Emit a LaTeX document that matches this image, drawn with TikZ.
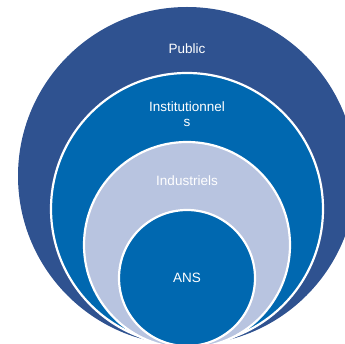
\documentclass[tikz,border=0pt]{standalone}
\usepackage{fontspec}
\setmainfont{Liberation Sans}
\definecolor{publicblue}{HTML}{2F5290}
\definecolor{instblue}{HTML}{0068B0}
\definecolor{indblue}{HTML}{B8C4E0}
\tikzset{
    ring/.style={draw=white,circle,line width=2.2pt,inner sep=0pt,outer sep=0pt},
    ringtext/.style={text=white,font=\fontsize{13.5}{15}\selectfont,align=center,inner sep=0pt}
}

\begin{document}
\begin{tikzpicture}[x=1pt,y=-1pt]
    \useasboundingbox (0, 0) rectangle (345, 344);
    \clip (0, 0) rectangle (345, 344);

    \begin{scope}
        \node[ring,draw=none,fill=publicblue,minimum size=338pt] (C_public) at (187, 176) {};
        \node[ring,fill=instblue,minimum size=272pt] (C_inst) at (187, 209) {};
        \node[ring,fill=indblue,minimum size=206pt] (C_ind) at (187, 245) {};
        \node[ring,fill=instblue,minimum size=136pt] (C_ans) at (187, 278) {};
    \end{scope}

    \begin{scope}[every node/.style={ringtext}]
        \node (T_public) at (187, 49) {Public};
        \node (T_inst) at (187, 114.5) {Institutionnel\\s};
        \node (T_ind) at (187, 181) {Industriels};
        \node (T_ans) at (187, 278) {ANS};
    \end{scope}
\end{tikzpicture}
\end{document}
